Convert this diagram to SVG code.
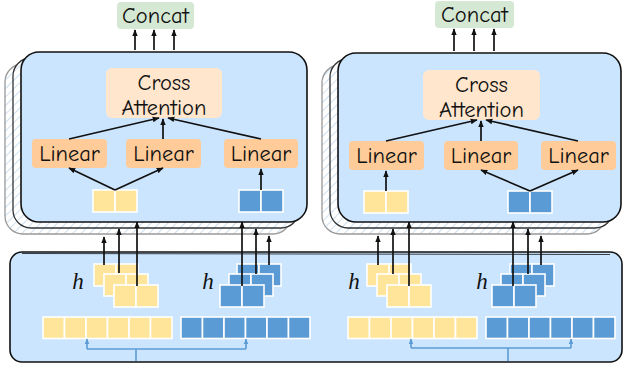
<svg xmlns="http://www.w3.org/2000/svg" xmlns:xlink="http://www.w3.org/1999/xlink" width="624" height="368" viewBox="0 0 624 368">
<style>
.lbl{font-family:"Comic Neue","DejaVu Sans","Noto Sans",sans-serif;font-size:22.5px;fill:#111;text-anchor:middle}
.h{font-family:"Liberation Serif","DejaVu Serif",serif;font-style:italic;font-size:23px;fill:#111;text-anchor:middle}
.main{fill:#cce5ff;stroke:#111;stroke-width:1.6}
.back2{fill:url(#hatch);stroke:#333;stroke-width:1.3}
.back3{fill:url(#hatch);stroke:#999;stroke-width:1.3}
.ca{fill:#ffe6cc}
.lin{fill:#ffcc99}
.cc{fill:#d5e8d4}
.y{fill:#ffe599;stroke:#fff;stroke-width:1.6}
.b{fill:#5b9bd5;stroke:#fff;stroke-width:1.6}
.ar{fill:none;stroke:#111;stroke-width:1.7;marker-end:url(#ah)}
.bl{fill:none;stroke:#5b9bd5;stroke-width:1.6}
.bla{fill:none;stroke:#5b9bd5;stroke-width:1.6;marker-end:url(#bh)}
</style>
<defs>
<pattern id="hatch" width="6" height="6" patternUnits="userSpaceOnUse" patternTransform="rotate(45)">
<rect width="6" height="6" fill="#fff"/>
<line x1="0" y1="0" x2="0" y2="6" stroke="#cfe0f0" stroke-width="2"/>
</pattern>
<marker id="ah" viewBox="0 0 10 10" refX="9" refY="5" markerWidth="7" markerHeight="7" orient="auto" markerUnits="userSpaceOnUse">
<path d="M0,1 L10,5 L0,9 Z" fill="#111"/>
</marker>
<marker id="bh" viewBox="0 0 10 10" refX="9" refY="5" markerWidth="6" markerHeight="6" orient="auto" markerUnits="userSpaceOnUse">
<path d="M0,1 L10,5 L0,9 Z" fill="#5b9bd5"/>
</marker>
<g id="ypair"><rect class="y" x="0" y="0" width="22" height="22"/><rect class="y" x="22" y="0" width="22" height="22"/></g>
<g id="bpair"><rect class="b" x="0" y="0" width="22" height="22"/><rect class="b" x="22" y="0" width="22" height="22"/></g>
<g id="yrow"><rect class="y" x="0" y="0" width="21.5" height="21.5"/><rect class="y" x="21.5" y="0" width="21.5" height="21.5"/><rect class="y" x="43" y="0" width="21.5" height="21.5"/><rect class="y" x="64.5" y="0" width="21.5" height="21.5"/><rect class="y" x="86" y="0" width="21.5" height="21.5"/><rect class="y" x="107.5" y="0" width="21.5" height="21.5"/></g>
<g id="brow"><rect class="b" x="0" y="0" width="21.5" height="21.5"/><rect class="b" x="21.5" y="0" width="21.5" height="21.5"/><rect class="b" x="43" y="0" width="21.5" height="21.5"/><rect class="b" x="64.5" y="0" width="21.5" height="21.5"/><rect class="b" x="86" y="0" width="21.5" height="21.5"/><rect class="b" x="107.5" y="0" width="21.5" height="21.5"/></g>
</defs>

<!-- bottom encoder box -->
<g id="bottom-box">
<rect x="10" y="252" width="612" height="110" rx="12" fill="#cce5ff" stroke="#111" stroke-width="1.6"/>
<path d="M22,253.5 L610,254.5" fill="none" stroke="#111" stroke-width="0.8"/>
</g>

<!-- left block -->
<g id="left-block">
<rect class="back3" x="5" y="64" width="286" height="170" rx="18"/>
<rect class="back2" x="13" y="58" width="286" height="170" rx="18"/>
<rect class="main" x="21" y="52" width="286" height="170" rx="18"/>
</g>
<g id="right-block">
<rect class="back3" x="322" y="65" width="283" height="169" rx="18"/>
<rect class="back2" x="330" y="59" width="283" height="169" rx="18"/>
<rect class="main" x="338" y="53" width="283" height="169" rx="18"/>
</g>

<g id="concat-left"><rect class="cc" x="117" y="2" width="77" height="27" rx="4"/><text class="lbl" x="155.5" y="23">Concat</text></g>
<g id="concat-right"><rect class="cc" x="435" y="1" width="79" height="27" rx="4"/><text class="lbl" x="474.5" y="22">Concat</text></g>

<g id="ca-left"><rect class="ca" x="106" y="68" width="116" height="50" rx="6"/><text class="lbl" x="164" y="90">Cross</text><text class="lbl" x="164" y="115">Attention</text></g>
<g id="ca-right"><rect class="ca" x="423" y="70" width="117" height="50" rx="6"/><text class="lbl" x="481.5" y="92">Cross</text><text class="lbl" x="481.5" y="117">Attention</text></g>

<g id="lin-l1"><rect class="lin" x="32" y="139" width="75" height="29" rx="4"/><text class="lbl" x="69.5" y="161">Linear</text></g>
<g id="lin-l2"><rect class="lin" x="126" y="139" width="75" height="29" rx="4"/><text class="lbl" x="163.5" y="161">Linear</text></g>
<g id="lin-l3"><rect class="lin" x="224" y="139" width="74" height="29" rx="4"/><text class="lbl" x="261" y="161">Linear</text></g>
<g id="lin-r1"><rect class="lin" x="349" y="141" width="75" height="29" rx="4"/><text class="lbl" x="386.5" y="163">Linear</text></g>
<g id="lin-r2"><rect class="lin" x="444" y="141" width="74" height="29" rx="4"/><text class="lbl" x="481" y="163">Linear</text></g>
<g id="lin-r3"><rect class="lin" x="541" y="141" width="75" height="29" rx="4"/><text class="lbl" x="578.5" y="163">Linear</text></g>

<g id="pair-l-y"><use xlink:href="#ypair" x="93" y="190"/></g>
<g id="pair-l-b"><use xlink:href="#bpair" x="239" y="190"/></g>
<g id="pair-r-y"><use xlink:href="#ypair" x="364" y="191"/></g>
<g id="pair-r-b"><use xlink:href="#bpair" x="508" y="191"/></g>

<!-- stacked tokens -->
<g id="stack-l-y"><use xlink:href="#ypair" x="94" y="264"/><use xlink:href="#ypair" x="104" y="274"/><use xlink:href="#ypair" x="114" y="285"/></g>
<g id="stack-l-b"><use xlink:href="#bpair" x="237" y="264"/><use xlink:href="#bpair" x="229" y="274"/><use xlink:href="#bpair" x="220" y="285"/></g>
<g id="stack-r-y"><use xlink:href="#ypair" x="367" y="264"/><use xlink:href="#ypair" x="377" y="274"/><use xlink:href="#ypair" x="387" y="285"/></g>
<g id="stack-r-b"><use xlink:href="#bpair" x="510" y="264"/><use xlink:href="#bpair" x="501" y="274"/><use xlink:href="#bpair" x="492" y="285"/></g>

<g id="h-labels">
<text class="h" x="78" y="289">h</text>
<text class="h" x="208" y="289">h</text>
<text class="h" x="354" y="289">h</text>
<text class="h" x="482" y="289">h</text>
</g>

<g id="rows">
<use xlink:href="#yrow" x="43" y="317"/>
<use xlink:href="#brow" x="181" y="317"/>
<use xlink:href="#yrow" x="348" y="317"/>
<use xlink:href="#brow" x="486" y="317"/>
</g>

<g id="connectors">
<path class="ar" d="M135,50 L135,30"/><path class="ar" d="M154,50 L154,30"/><path class="ar" d="M174,50 L174,30"/>
<path class="ar" d="M454,51 L454,29"/><path class="ar" d="M474,51 L474,29"/><path class="ar" d="M494,51 L494,29"/>
<path class="ar" d="M69,139 L159,118"/><path class="ar" d="M163,139 L163,119"/><path class="ar" d="M261,139 L168,118"/>
<path class="ar" d="M386,141 L477,120"/><path class="ar" d="M481,141 L481,121"/><path class="ar" d="M578,141 L486,120"/>
<path class="ar" d="M115,190 L69,168"/><path class="ar" d="M115,190 L163,168"/>
<path class="ar" d="M261,190 L261,169"/>
<path class="ar" d="M386,191 L386,171"/>
<path class="ar" d="M530,191 L481,170"/><path class="ar" d="M530,191 L578,170"/>
<path class="ar" d="M104,265 L104,237"/><path class="ar" d="M119,273 L119,229"/><path class="ar" d="M137,286 L137,222"/>
<path class="ar" d="M242,286 L242,222"/><path class="ar" d="M256,274 L256,229"/><path class="ar" d="M269,265 L269,236"/>
<path class="ar" d="M378,265 L378,236"/><path class="ar" d="M393,274 L393,229"/><path class="ar" d="M409,286 L409,222"/>
<path class="ar" d="M513,286 L513,222"/><path class="ar" d="M528,274 L528,229"/><path class="ar" d="M541,265 L541,236"/>
<path class="bl" d="M136,361 L136,349"/><path class="bl" d="M87,349 L246,349"/>
<path class="bla" d="M87,349 L87,339"/><path class="bla" d="M246,349 L246,339"/>
<path class="bl" d="M508,361 L508,348"/><path class="bl" d="M411,348 L571,348"/>
<path class="bla" d="M411,348 L411,339"/><path class="bla" d="M571,348 L571,339"/>
</g>
</svg>
